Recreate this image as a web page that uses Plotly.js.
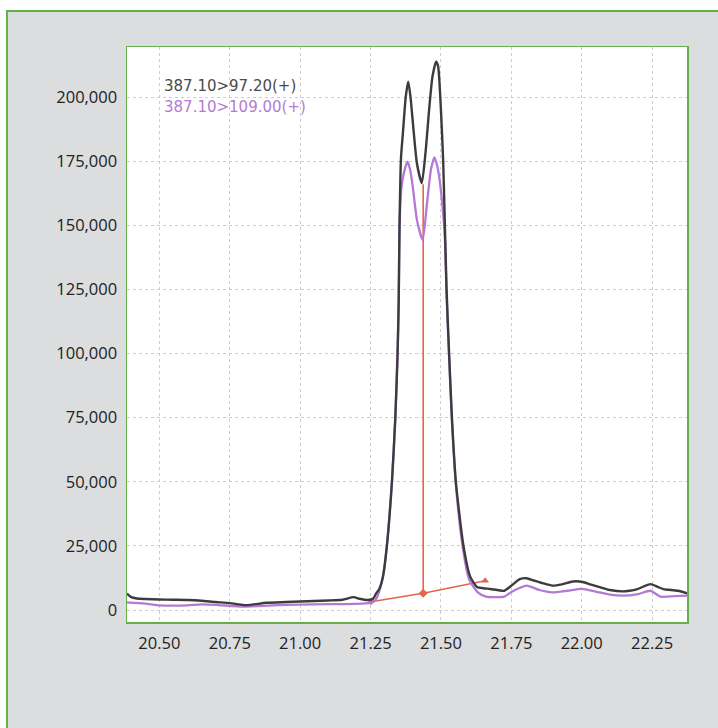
<!DOCTYPE html>
<html>
<head>
<meta charset="utf-8">
<script src="https://cdn.plot.ly/plotly-3.0.1.min.js"></script>
<style>
  html, body { margin: 0; padding: 0; background: #ffffff; }
  #frame { position: absolute; left: 6px; top: 10px; width: 712px; height: 718px;
           background: #dcdddf; border-top: 2px solid #62b14b; border-left: 2px solid #62b14b; box-sizing: border-box; }
  #chart { position: absolute; left: 0; top: 0; width: 718px; height: 728px; }
</style>
</head>
<body>
<div id="frame"></div>
<div id="chart"></div>
<script>
// Retention time (min) and intensity for transition 387.10>97.20(+)
const blackTime = [20.385, 20.40, 20.42, 20.45, 20.50, 20.55, 20.60, 20.65, 20.70, 20.75, 20.80, 20.83, 20.88, 20.95, 21.00, 21.05, 21.10, 21.15, 21.19, 21.21, 21.24, 21.26, 21.27, 21.28, 21.294, 21.308, 21.326, 21.338, 21.346, 21.350, 21.353, 21.358, 21.365, 21.375, 21.384, 21.392, 21.402, 21.415, 21.432, 21.445, 21.458, 21.470, 21.483, 21.490, 21.500, 21.508, 21.514, 21.520, 21.529, 21.539, 21.553, 21.580, 21.604, 21.628, 21.650, 21.675, 21.700, 21.725, 21.750, 21.780, 21.804, 21.830, 21.860, 21.896, 21.930, 21.968, 22.000, 22.030, 22.067, 22.100, 22.146, 22.170, 22.198, 22.244, 22.270, 22.290, 22.342, 22.374];
const blackInt  = [6400, 5000, 4500, 4300, 4100, 4000, 3900, 3600, 3100, 2700, 1900, 2100, 2800, 3100, 3300, 3500, 3700, 4000, 5000, 4400, 3900, 4500, 6500, 8000, 13000, 25000, 50000, 75000, 100000, 120000, 150000, 176000, 186000, 200000, 206000, 200000, 188000, 174000, 166500, 178000, 195000, 208000, 213800, 212000, 195000, 175000, 150000, 125000, 100000, 75000, 50000, 25000, 13000, 9000, 8500, 8200, 7800, 7500, 9500, 12000, 12400, 11500, 10500, 9500, 10000, 11100, 11000, 10000, 8800, 7800, 7250, 7500, 8150, 10100, 9000, 8160, 7500, 6500];

// Transition 387.10>109.00(+)
const purpleTime = [20.385, 20.45, 20.50, 20.55, 20.60, 20.65, 20.70, 20.80, 20.90, 21.00, 21.10, 21.20, 21.25, 21.265, 21.279, 21.294, 21.308, 21.326, 21.338, 21.346, 21.350, 21.353, 21.360, 21.372, 21.381, 21.390, 21.400, 21.415, 21.435, 21.450, 21.465, 21.477, 21.487, 21.495, 21.505, 21.514, 21.520, 21.529, 21.539, 21.553, 21.578, 21.600, 21.630, 21.660, 21.700, 21.725, 21.750, 21.804, 21.850, 21.896, 21.950, 22.000, 22.050, 22.100, 22.146, 22.200, 22.244, 22.280, 22.330, 22.374];
const purpleInt  = [3000, 2500, 1800, 1700, 1800, 2200, 2000, 1300, 1800, 2100, 2300, 2400, 2800, 3500, 6600, 13000, 25000, 50000, 75000, 100000, 120000, 150000, 165000, 172000, 174800, 172000, 165000, 152000, 144300, 158000, 172000, 176500, 173000, 168000, 158000, 145000, 123000, 99000, 74000, 49000, 24000, 12000, 7000, 5200, 5000, 5200, 7000, 9500, 7800, 6900, 7500, 8200, 7200, 6000, 5570, 6200, 7500, 5200, 5400, 5570];

// Integration baseline and peak split line
const baseTime = [21.252, 21.437, 21.657];
const baseInt  = [3200, 6500, 11400];
const splitTime = [21.437, 21.437];
const splitInt  = [6500, 166000];

const seriesNames = ["387.10>97.20(+)", "387.10>109.00(+)"];
const xTicks = [20.50, 20.75, 21.00, 21.25, 21.50, 21.75, 22.00, 22.25];
const xTickText = ["20.50", "20.75", "21.00", "21.25", "21.50", "21.75", "22.00", "22.25"];
const yTicks = [0, 25000, 50000, 75000, 100000, 125000, 150000, 175000, 200000];
const yTickText = ["0", "25,000", "50,000", "75,000", "100,000", "125,000", "150,000", "175,000", "200,000"];

const red = "#e2674a";
const traces = [
  { x: baseTime, y: baseInt, mode: "lines+markers", line: { color: red, width: 1.6 },
    marker: { color: red, size: 7, symbol: ["triangle-down", "diamond", "triangle-up"] }, showlegend: false, hoverinfo: "skip" },
  { x: splitTime, y: splitInt, mode: "lines", line: { color: red, width: 1.6 }, showlegend: false, hoverinfo: "skip" },
  { x: purpleTime, y: purpleInt, mode: "lines", name: seriesNames[1], line: { color: "#b47ad3", width: 2.3, shape: "spline", smoothing: 0.6 }, showlegend: false },
  { x: blackTime, y: blackInt, mode: "lines", name: seriesNames[0], line: { color: "#3c3c3e", width: 2.4, shape: "spline", smoothing: 0.6 }, showlegend: false }
];

const tickFont = { family: "Open Sans, sans-serif", size: 16.5, color: "#222222" };
const legendFont = "DejaVu Sans, sans-serif";
const layout = {
  width: 718, height: 728,
  margin: { l: 127, r: 31, t: 47, b: 106, pad: 0 },
  paper_bgcolor: "rgba(0,0,0,0)",
  plot_bgcolor: "#ffffff",
  showlegend: false,
  xaxis: {
    range: [20.385, 22.374], tickvals: xTicks, ticktext: xTickText, ticks: "", tickfont: tickFont,
    showgrid: true, gridcolor: "#cdcdcd", griddash: "dot", gridwidth: 1, zeroline: false,
    showline: true, mirror: true, linecolor: "#62b14b", linewidth: 1.5, ticklabelstandoff: 6
  },
  yaxis: {
    range: [-4680, 219500], tickvals: yTicks, ticktext: yTickText, ticks: "", tickfont: tickFont,
    showgrid: true, gridcolor: "#cdcdcd", griddash: "dot", gridwidth: 1, zeroline: false,
    showline: true, mirror: true, linecolor: "#62b14b", linewidth: 1.5, ticklabelstandoff: 5
  },
  annotations: [
    { xref: "paper", yref: "paper", x: 0.063, y: 0.933, xanchor: "left", yanchor: "middle", showarrow: false,
      text: seriesNames[0], font: { family: legendFont, size: 15, color: "#4a4a4c" } },
    { xref: "paper", yref: "paper", x: 0.063, y: 0.896, xanchor: "left", yanchor: "middle", showarrow: false,
      text: seriesNames[1], font: { family: legendFont, size: 15, color: "#b47ad3" } }
  ]
};
Plotly.newPlot("chart", traces, layout, { displayModeBar: false, staticPlot: true });
</script>
</body>
</html>
